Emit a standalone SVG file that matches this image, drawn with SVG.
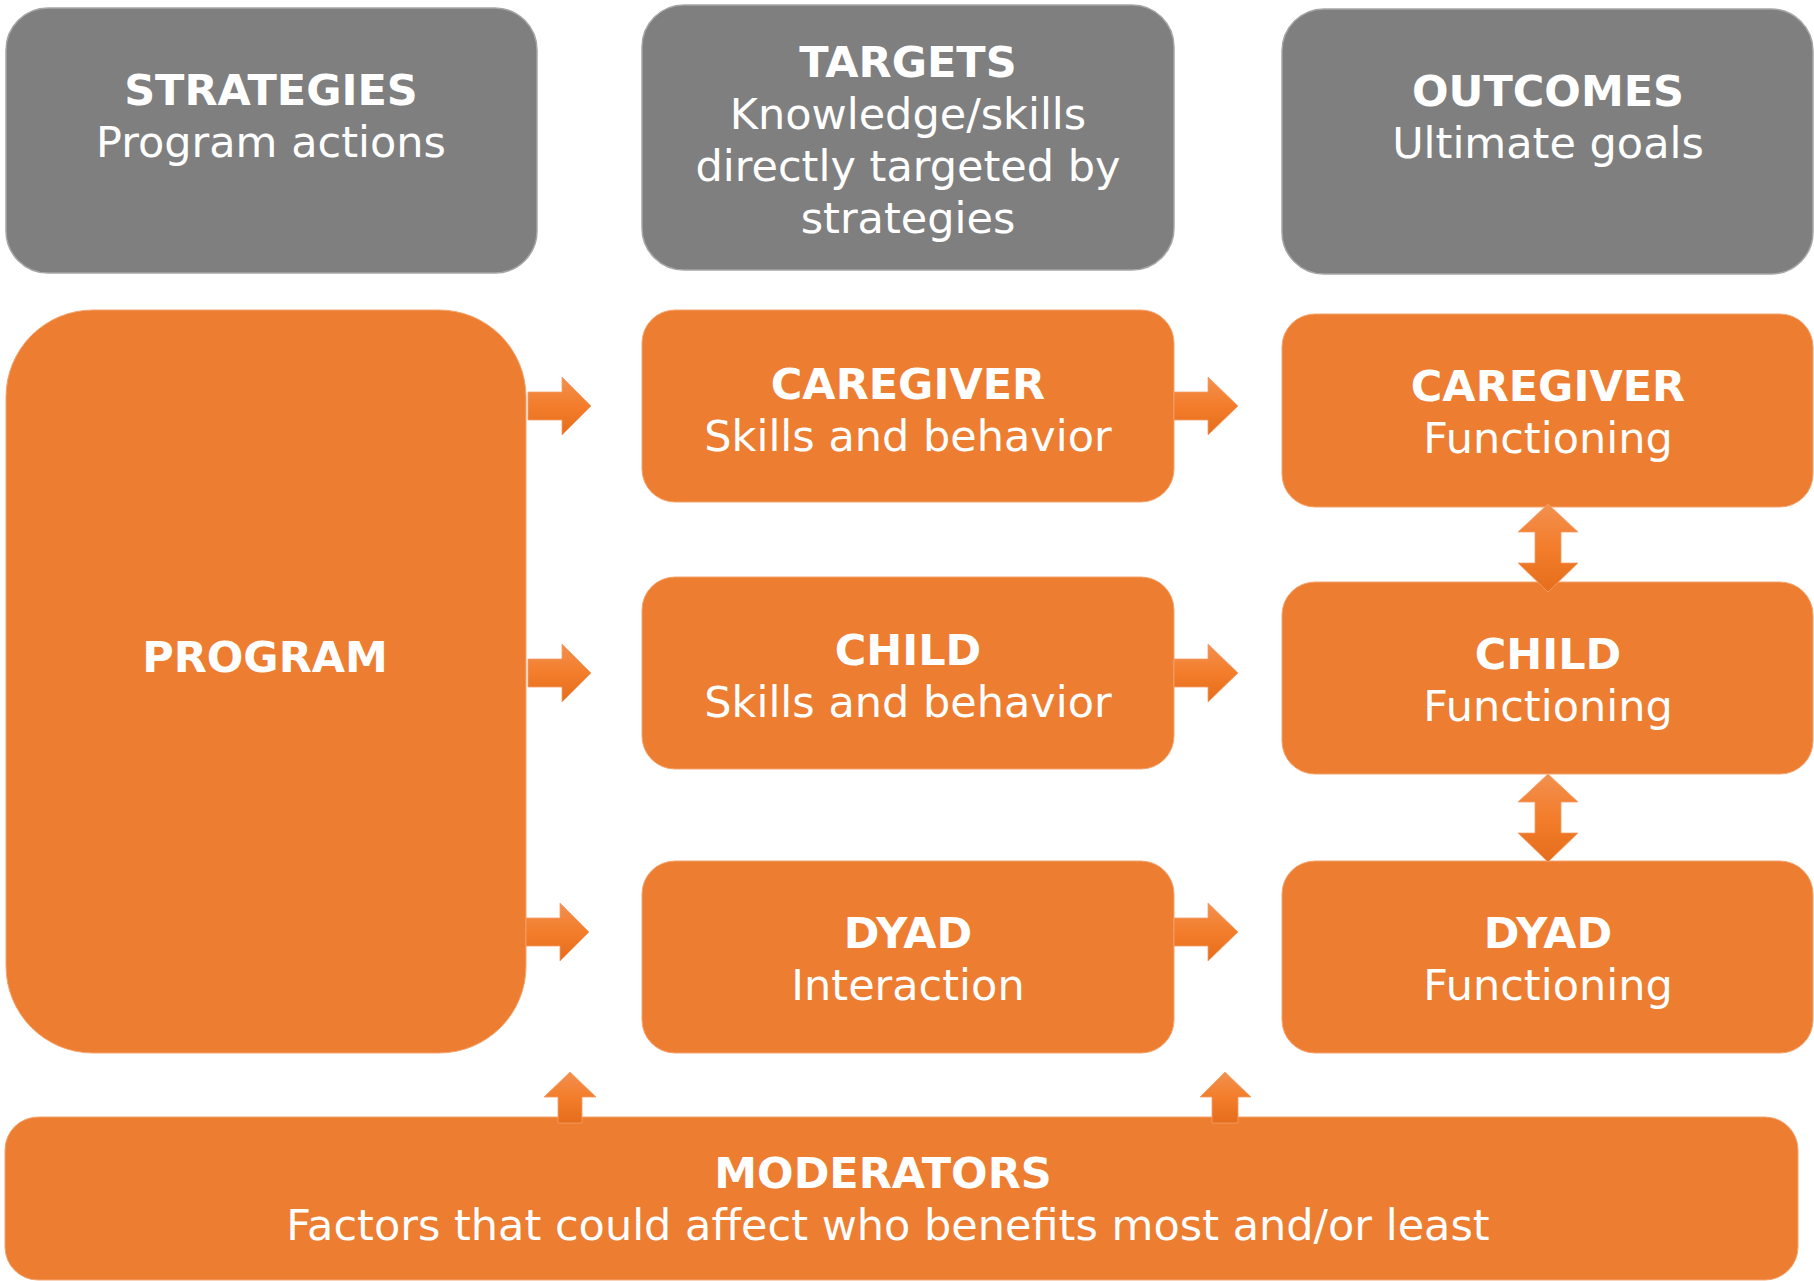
<svg xmlns="http://www.w3.org/2000/svg" width="1814" height="1281" viewBox="0 0 1814 1281">
<style>
.gray{fill:#7f7f7f;stroke:#a6a6a6;stroke-width:1.5}
.orange{fill:#ed7d31;stroke:#f4a46e;stroke-width:1}
.b{font-family:"DejaVu Sans",Verdana,sans-serif;font-weight:bold;font-size:43px;fill:#ffffff;text-anchor:middle}
.r{font-family:"DejaVu Sans",Verdana,sans-serif;font-size:43px;fill:#ffffff;text-anchor:middle}
.arr{fill:url(#ag);stroke:#f5a06a;stroke-width:0.8}
</style>
<defs>
<linearGradient id="ag" x1="0" y1="0" x2="0" y2="1">
<stop offset="0" stop-color="#f2904f"/>
<stop offset="0.5" stop-color="#f37d2b"/>
<stop offset="1" stop-color="#e56d1c"/>
</linearGradient>
</defs>
<rect width="1814" height="1281" fill="#ffffff"/>

<g id="strategies">
<rect class="gray" x="6" y="8" width="531" height="265" rx="42"/>
<text class="b" x="271" y="105">STRATEGIES</text>
<text class="r" x="271" y="157">Program actions</text>
</g>
<g id="targets">
<rect class="gray" x="642" y="5" width="532" height="265" rx="42"/>
<text class="b" x="908" y="77">TARGETS</text>
<text class="r" x="908" y="129">Knowledge/skills</text>
<text class="r" x="908" y="181">directly targeted by</text>
<text class="r" x="908" y="233">strategies</text>
</g>
<g id="outcomes">
<rect class="gray" x="1282" y="9" width="531" height="265" rx="42"/>
<text class="b" x="1548" y="106">OUTCOMES</text>
<text class="r" x="1548" y="158">Ultimate goals</text>
</g>

<g id="program">
<rect class="orange" x="6" y="310" width="520" height="743" rx="87"/>
<text class="b" x="265" y="672">PROGRAM</text>
</g>

<g id="target-caregiver">
<rect class="orange" x="642" y="310" width="532" height="192" rx="33"/>
<text class="b" x="908" y="399">CAREGIVER</text>
<text class="r" x="908" y="451">Skills and behavior</text>
</g>
<g id="target-child">
<rect class="orange" x="642" y="577" width="532" height="192" rx="33"/>
<text class="b" x="908" y="665">CHILD</text>
<text class="r" x="908" y="717">Skills and behavior</text>
</g>
<g id="target-dyad">
<rect class="orange" x="642" y="861" width="532" height="192" rx="33"/>
<text class="b" x="908" y="948">DYAD</text>
<text class="r" x="908" y="1000">Interaction</text>
</g>

<g id="outcome-caregiver">
<rect class="orange" x="1282" y="314" width="531" height="193" rx="33"/>
<text class="b" x="1548" y="401">CAREGIVER</text>
<text class="r" x="1548" y="453">Functioning</text>
</g>
<g id="outcome-child">
<rect class="orange" x="1282" y="582" width="531" height="192" rx="33"/>
<text class="b" x="1548" y="669">CHILD</text>
<text class="r" x="1548" y="721">Functioning</text>
</g>
<g id="outcome-dyad">
<rect class="orange" x="1282" y="861" width="531" height="192" rx="33"/>
<text class="b" x="1548" y="948">DYAD</text>
<text class="r" x="1548" y="1000">Functioning</text>
</g>

<g id="moderators">
<rect class="orange" x="5" y="1117" width="1793" height="163" rx="33"/>
<text class="b" x="883" y="1188">MODERATORS</text>
<text class="r" x="888" y="1240">Factors that could affect who benefits most and/or least</text>
</g>

<g id="connectors">
<polygon class="arr" points="528,392 562,392 562,377 591,406 562,435 562,420 528,420"/>
<polygon class="arr" points="528,659 562,659 562,644 591,673 562,702 562,687 528,687"/>
<polygon class="arr" points="526,918 560,918 560,903 589,932 560,961 560,946 526,946"/>
<polygon class="arr" points="1174,392 1208,392 1208,377 1238,406 1208,435 1208,420 1174,420"/>
<polygon class="arr" points="1174,659 1208,659 1208,644 1238,673 1208,702 1208,687 1174,687"/>
<polygon class="arr" points="1174,918 1208,918 1208,903 1238,932 1208,961 1208,946 1174,946"/>
<polygon class="arr" points="1548,504 1578,532 1561,532 1561,563 1578,563 1548,592 1518,563 1535,563 1535,532 1518,532"/>
<polygon class="arr" points="1548,774 1578,802 1561,802 1561,833 1578,833 1548,862 1518,833 1535,833 1535,802 1518,802"/>
<polygon class="arr" points="570,1072 596,1097 582,1097 582,1123 558,1123 558,1097 544,1097"/>
<polygon class="arr" points="1225,1072 1251,1097 1238,1097 1238,1123 1212,1123 1212,1097 1200,1097"/>
</g>
</svg>
